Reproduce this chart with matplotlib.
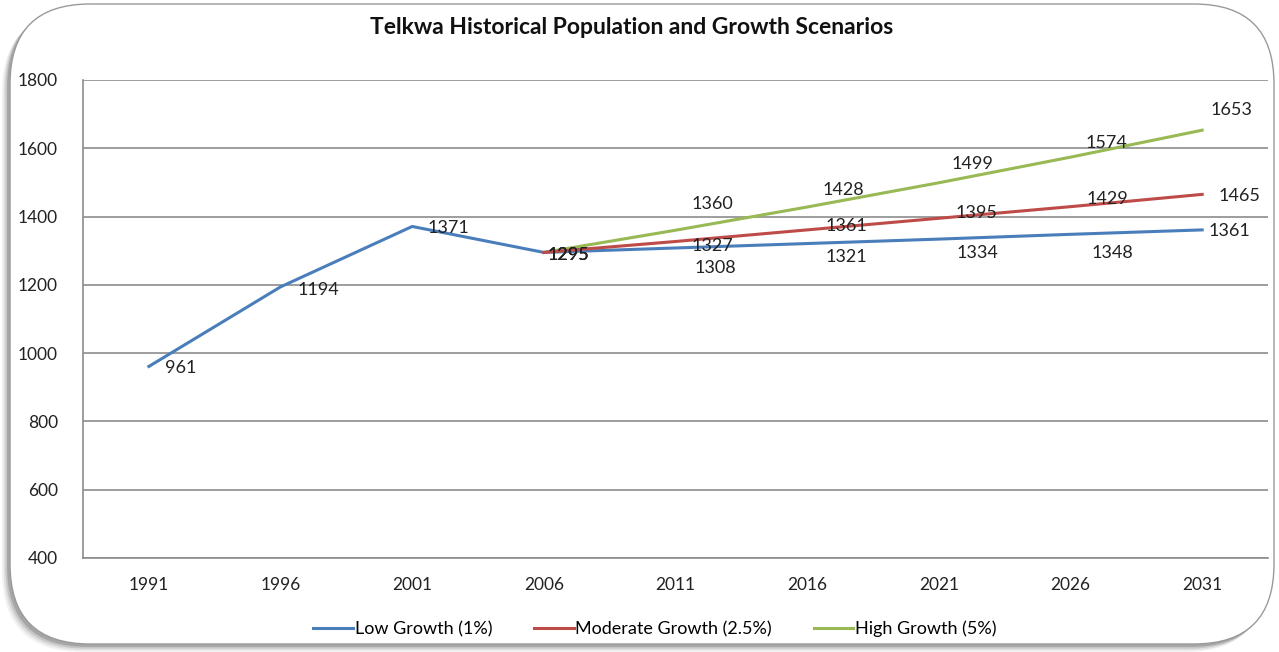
import matplotlib.pyplot as plt
from matplotlib.patches import FancyBboxPatch

plt.rcParams['font.family'] = ['Lato', 'DejaVu Sans']

# data
years = ['1991', '1996', '2001', '2006', '2011', '2016', '2021', '2026', '2031']
low = [961, 1194, 1371, 1295, 1308, 1321, 1334, 1348, 1361]
moderate = [1295, 1327, 1361, 1395, 1429, 1465]
high = [1295, 1360, 1428, 1499, 1574, 1653]

# label offsets in pixels, as placed in the original
low_off = [(32, -2), (38, -3), (36, -2), (25, -3), (40, -20), (39, -13), (39, -14), (42, -19), (27, -1)]
mod_off = [(25, -3), (37, -5), (39, 4), (38, 5), (37, 8), (37, -2)]
high_off = [(25, -3), (37, 26), (36, 17), (34, 19), (36, 14), (29, 20)]

fig = plt.figure(figsize=(12.79, 6.52), dpi=100)

# rounded frame with soft shadow toward lower left
bg = fig.add_axes([0, 0, 1, 1])
bg.set_xlim(0, 1279)
bg.set_ylim(652, 0)
bg.axis('off')
for i, a in enumerate([0.05, 0.08, 0.11, 0.16]):
    s = 7 - i * 1.7
    bg.add_patch(FancyBboxPatch((9 - s, 5 + s), 1264, 640,
                                boxstyle='round,pad=0,rounding_size=80',
                                fc='#000000', ec='none', alpha=a))
bg.add_patch(FancyBboxPatch((10, 4), 1264, 640, boxstyle='round,pad=0,rounding_size=80',
                            fc='white', ec='#9a9a9a', lw=1.0))

ax = fig.add_axes([83 / 1279, 1 - 558 / 652, (1268 - 83) / 1279, (558 - 80) / 652])
ax.set_facecolor('none')
x = list(range(len(years)))
xs = x[3:]

ax.plot(x, low, color='#4A7EBB', lw=2.2, label='Low Growth (1%)', zorder=3)
ax.plot(xs, moderate, color='#BE4B48', lw=2.2, label='Moderate Growth (2.5%)', zorder=3)
ax.plot(xs, high, color='#98B954', lw=2.2, label='High Growth (5%)', zorder=2)

for xv, yv, off in zip(x, low, low_off):
    ax.annotate(str(yv), (xv, yv), xytext=off, textcoords='offset pixels',
                ha='center', va='center', fontsize=13, color='#222222')
for xv, yv, off in zip(xs, moderate, mod_off):
    ax.annotate(str(yv), (xv, yv), xytext=off, textcoords='offset pixels',
                ha='center', va='center', fontsize=13, color='#222222')
for xv, yv, off in zip(xs, high, high_off):
    ax.annotate(str(yv), (xv, yv), xytext=off, textcoords='offset pixels',
                ha='center', va='center', fontsize=13, color='#222222')

ax.set_xlim(-0.5, len(years) - 0.5)
ax.set_ylim(400, 1800)
ax.set_yticks(range(400, 1801, 200))
ax.set_xticks(x)
ax.set_xticklabels(years)
ax.tick_params(length=0, labelsize=12.5, colors='#222222')
ax.tick_params(axis='x', pad=14)
ax.tick_params(axis='y', pad=18)
ax.grid(axis='y', color='#8c8c8c', lw=1.2)
ax.set_axisbelow(True)
for side in ['top', 'right']:
    ax.spines[side].set_visible(False)
for side in ['left', 'bottom']:
    ax.spines[side].set_color('#8c8c8c')
    ax.spines[side].set_linewidth(1.2)

fig.text(632 / 1279, 1 - 28 / 652, 'Telkwa Historical Population and Growth Scenarios',
         ha='center', va='center', fontsize=16.5, fontweight='bold', color='#111111')

fig.legend(loc='center', bbox_to_anchor=(655 / 1279, 1 - 629 / 652), ncol=3, frameon=False,
           fontsize=13, handlelength=2.2, handletextpad=0.1, columnspacing=2.3)

fig.savefig('out.png', dpi=100)
